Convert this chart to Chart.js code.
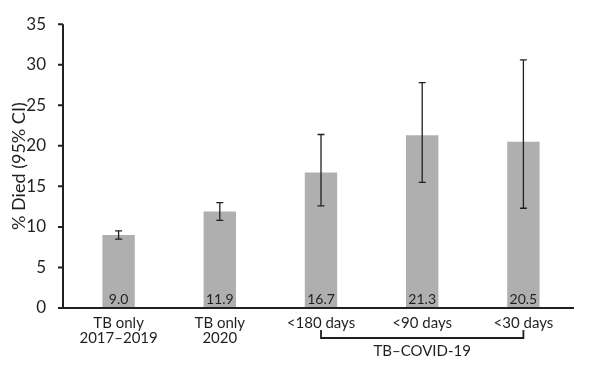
<!DOCTYPE html>
<html>
<head>
<meta charset="utf-8">
<script src="https://cdn.jsdelivr.net/npm/chart.js@4/dist/chart.umd.min.js"></script>
<style>
  body { margin: 0; background: #fff; }
  #wrap { width: 600px; height: 377px; }
</style>
</head>
<body>
<div id="wrap"><canvas id="diedChart"></canvas></div>
<script>
const categories = [['TB only', '2017–2019'], ['TB only', '2020'], '<180 days', '<90 days', '<30 days'];
const died = [9.0, 11.9, 16.7, 21.3, 20.5];
const ciLow = [8.5, 10.8, 12.6, 15.5, 12.3];
const ciHigh = [9.5, 13.0, 21.4, 27.8, 30.6];
const groupLabel = 'TB–COVID-19';
const groupFrom = 2;
const groupTo = 4;

const FONT = 'Lato, "Open Sans", sans-serif';
const INK = '#231f20';

// error bars, value labels, axis lines and the bracket under the last three bars
const extras = {
    id: 'extras',
    afterDatasetsDraw(chart) {
        const ctx = chart.ctx;
        const x = chart.scales.x;
        const y = chart.scales.y;
        const area = chart.chartArea;
        const axisX = area.left - 5;
        const base = y.getPixelForValue(0);

        ctx.save();
        ctx.strokeStyle = INK;
        ctx.lineWidth = 1.3;

        died.forEach((v, i) => {
            const cx = x.getPixelForValue(i);
            const top = y.getPixelForValue(ciHigh[i]);
            const bot = y.getPixelForValue(ciLow[i]);
            ctx.beginPath();
            ctx.moveTo(cx, top); ctx.lineTo(cx, bot);
            ctx.moveTo(cx - 3.5, top); ctx.lineTo(cx + 3.5, top);
            ctx.moveTo(cx - 3.5, bot); ctx.lineTo(cx + 3.5, bot);
            ctx.stroke();
        });

        ctx.fillStyle = INK;
        ctx.font = '14px ' + FONT;
        ctx.textAlign = 'center';
        ctx.textBaseline = 'middle';
        died.forEach((v, i) => {
            ctx.fillText(v.toFixed(1), x.getPixelForValue(i), base - 9);
        });

        // axes
        ctx.lineWidth = 2;
        ctx.beginPath();
        ctx.moveTo(axisX, y.getPixelForValue(35));
        ctx.lineTo(axisX, base);
        ctx.lineTo(area.right, base);
        y.ticks.forEach(t => {
            const py = y.getPixelForValue(t.value);
            ctx.moveTo(axisX - 5, py);
            ctx.lineTo(axisX, py);
        });
        ctx.stroke();

        // bracket
        const bx1 = x.getPixelForValue(groupFrom);
        const bx2 = x.getPixelForValue(groupTo);
        const by = base + 30;
        ctx.lineWidth = 1.8;
        ctx.beginPath();
        ctx.moveTo(bx1, by - 8);
        ctx.lineTo(bx1, by);
        ctx.lineTo(bx2, by);
        ctx.lineTo(bx2, by - 8);
        ctx.stroke();
        ctx.font = '15px ' + FONT;
        ctx.fillText(groupLabel, x.getPixelForValue(3), by + 13);
        ctx.restore();
    }
};

new Chart(document.getElementById('diedChart'), {
    type: 'bar',
    data: {
        labels: categories,
        datasets: [{
            data: died,
            backgroundColor: '#afafaf',
            borderWidth: 0,
            barPercentage: 0.64,
            categoryPercentage: 0.5
        }]
    },
    options: {
        responsive: true,
        maintainAspectRatio: false,
        animation: false,
        layout: { padding: { top: 6, right: 26, left: 0, bottom: 0 } },
        plugins: {
            legend: { display: false },
            tooltip: { enabled: false }
        },
        scales: {
            x: {
                grid: { display: false },
                border: { display: false },
                ticks: { color: INK, font: { family: FONT, size: 15, lineHeight: 1.0 }, padding: 0, maxRotation: 0 },
                afterFit: s => { s.height = 69; }
            },
            y: {
                min: 0,
                max: 35,
                grid: { display: false },
                border: { display: false },
                ticks: { stepSize: 5, color: INK, font: { family: FONT, size: 17 }, padding: 14 },
                title: { display: true, text: '% Died (95% CI)', color: INK, font: { family: FONT, size: 18 }, padding: { top: 8, bottom: 0 } },
                afterFit: s => { s.width = 68; }
            }
        }
    },
    plugins: [extras]
});
</script>
</body>
</html>
